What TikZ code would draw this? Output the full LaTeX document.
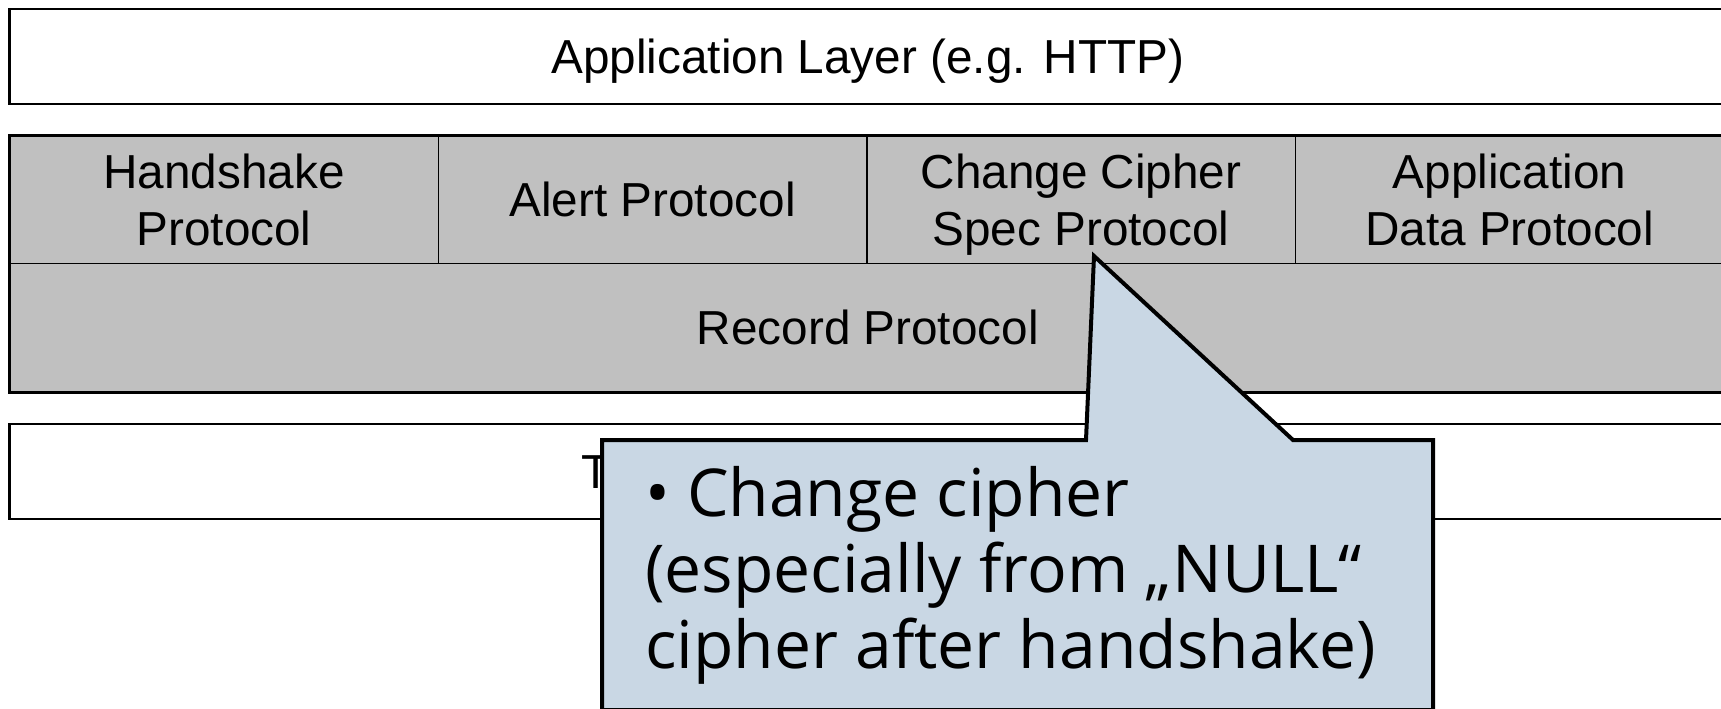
\documentclass[tikz,border=0pt]{standalone}
\usepackage{fontspec}
\setmainfont{Liberation Sans}
\newfontfamily\notefont{Open Sans}
\definecolor{layergray}{HTML}{C0C0C0}
\definecolor{notefill}{HTML}{C9D7E4}
\begin{document}
\begin{tikzpicture}[x=1pt,y=-1pt,
  layerbox/.style={draw=black, line width=2.5pt, inner sep=0pt, anchor=north west,
    minimum width=1717pt, font=\fontsize{47.7}{57.5}\selectfont,
    text height=34.2pt, text depth=0pt},
  cellbox/.style={draw=black, line width=1.6pt, fill=layergray, inner sep=0pt,
    anchor=north west, minimum width=428.5pt, minimum height=127.7pt,
    font=\fontsize{47.7}{57.5}\selectfont, align=center},
  bandframe/.style={draw=black, line width=2.5pt},
  notebox/.style={draw=black, line width=4pt, line join=miter, fill=notefill},
  notetext/.style={font=\notefont\fontsize{66}{76}\selectfont, align=left, inner sep=0pt}
]
\useasboundingbox (0,0) rectangle (1721,709);
\clip (0,0) rectangle (1721,709);

% application layer on top
\node[layerbox, minimum height=94.5pt] (app) at (8,8) {Application Layer (e.g. HTTP)};

% the four protocols that run over the record protocol
\node[cellbox, text depth=0pt] (hs)  at (9,135)     {Handshake\\Protocol};
\node[cellbox, text height=34.2pt, text depth=0pt] (alert) at (437.5,135) {Alert Protocol};
\node[cellbox, text depth=0pt] (ccs) at (866,135)   {Change Cipher\\Spec Protocol};
\node[cellbox, text depth=0pt] (adp) at (1294.5,135) {Application\\Data Protocol};

% record protocol
\node[cellbox, minimum width=1716pt, minimum height=128pt,
      text height=34.2pt, text depth=0pt] (rec) at (9,262.7) {Record Protocol};
\draw[bandframe] (hs.north west) rectangle (rec.south east);

% transport layer
\node[layerbox, minimum height=95pt] (tl) at (8,422.6) {Transport Layer (e.g. TCP)};

% speech-bubble note pointing at the change cipher spec protocol
\coordinate (tip) at (1094,256);
\draw[notebox] (602,440) -- (1086,440) -- (tip) -- (1293,440) -- (1433,440)
  -- (1433,710) -- (602,710) -- cycle;
% base anchor of a multi-line node sits on its last line
\node[notetext, anchor=base west] (note) at (645,668)
  {• Change cipher\\(especially from „NULL“\\cipher after handshake)};
\end{tikzpicture}
\end{document}
